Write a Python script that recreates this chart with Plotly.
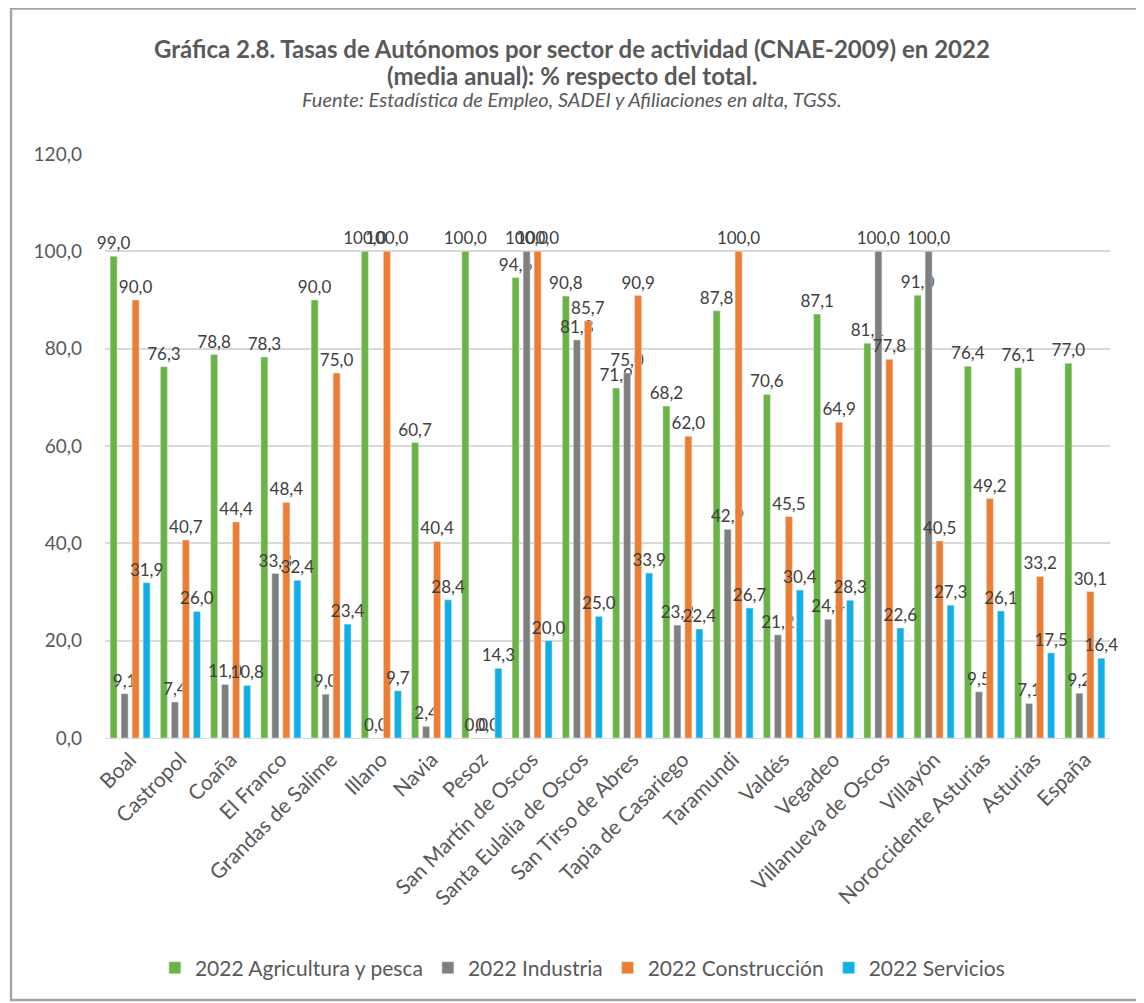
import plotly.graph_objects as go

categories = ["Boal", "Castropol", "Coaña", "El Franco", "Grandas de Salime", "Illano", "Navia", "Pesoz",
              "San Martín de Oscos", "Santa Eulalia de Oscos", "San Tirso de Abres", "Tapia de Casariego",
              "Taramundi", "Valdés", "Vegadeo", "Villanueva de Oscos", "Villayón", "Noroccidente Asturias",
              "Asturias", "España"]
agricultura = [99.0, 76.3, 78.8, 78.3, 90.0, 100.0, 60.7, 100.0, 94.6, 90.8, 71.9, 68.2, 87.8, 70.6, 87.1, 81.1, 91.0, 76.4, 76.1, 77.0]
industria = [9.1, 7.4, 11.0, 33.8, 9.0, 0.0, 2.4, 0.0, 100.0, 81.8, 75.0, 23.2, 42.9, 21.2, 24.4, 100.0, 100.0, 9.5, 7.1, 9.2]
construccion = [90.0, 40.7, 44.4, 48.4, 75.0, 100.0, 40.4, 0.0, 100.0, 85.7, 90.9, 62.0, 100.0, 45.5, 64.9, 77.8, 40.5, 49.2, 33.2, 30.1]
servicios = [31.9, 26.0, 10.8, 32.4, 23.4, 9.7, 28.4, 14.3, 20.0, 25.0, 33.9, 22.4, 26.7, 30.4, 28.3, 22.6, 27.3, 26.1, 17.5, 16.4]

series = [
    ("2022 Agricultura y pesca", agricultura, "#6AB446"),
    ("2022 Industria", industria, "#7F7F7F"),
    ("2022 Construcción", construccion, "#ED7D31"),
    ("2022 Servicios", servicios, "#12AEE8"),
]

FONT = "Lato"
TXT = "#404040"
fig = go.Figure()
for name, vals, col in series:
    fig.add_trace(go.Bar(
        x=categories, y=vals, name=name, marker_color=col,
        texttemplate="%{y:.1f}", textposition="outside", constraintext="none",
        textfont=dict(size=17, color=TXT, family=FONT),
        cliponaxis=False,
    ))

fig.update_layout(
    width=1136, height=995,
    separators=", ",
    barmode="group", bargap=0.125, bargroupgap=0.36,
    plot_bgcolor="white", paper_bgcolor="white",
    margin=dict(l=97, r=34, t=146, b=265),
    font=dict(family=FONT, color="#595959", size=17),
    showlegend=True,
    legend=dict(orientation="h", x=0.475, xanchor="center", y=-0.394, yanchor="middle",
                font=dict(size=21, color="#595959", family=FONT), itemwidth=30,
                traceorder="normal"),
    xaxis=dict(tickangle=-45, tickfont=dict(size=21, color="#595959"), showline=True,
               linecolor="#D9D9D9", ticks=""),
    yaxis=dict(range=[0, 120], dtick=20, tickformat=".1f", showgrid=True, gridcolor="#D9D9D9",
               gridwidth=1.5, zeroline=False, tickfont=dict(size=19, color="#595959"), ticks="",
               ticklabelstandoff=22, automargin=False),
)

fig.add_annotation(xref="paper", yref="paper", x=0.4647, y=1.1815, showarrow=False,
                   text="<b>Gráfica 2.8. Tasas de Autónomos por sector de actividad (CNAE-2009) en 2022</b>",
                   font=dict(size=24, color="#595959", family=FONT), yanchor="middle")
fig.add_annotation(xref="paper", yref="paper", x=0.4647, y=1.135, showarrow=False,
                   text="<b>(media anual): % respecto del total.</b>",
                   font=dict(size=24, color="#595959", family=FONT), yanchor="middle")
fig.add_annotation(xref="paper", yref="paper", x=0.4647, y=1.094, showarrow=False,
                   text="<i>Fuente: Estadística de Empleo, SADEI y Afiliaciones en alta, TGSS.</i>",
                   font=dict(size=20, color="#595959", family=FONT), yanchor="middle")

fig.add_shape(type="rect", xref="paper", yref="paper", x0=-0.0935, x1=1.0299, y0=-0.4486, y1=1.249,
              line=dict(color="#A6A6A6", width=2.5), fillcolor="rgba(0,0,0,0)", layer="below")

fig.write_html("out.html")
